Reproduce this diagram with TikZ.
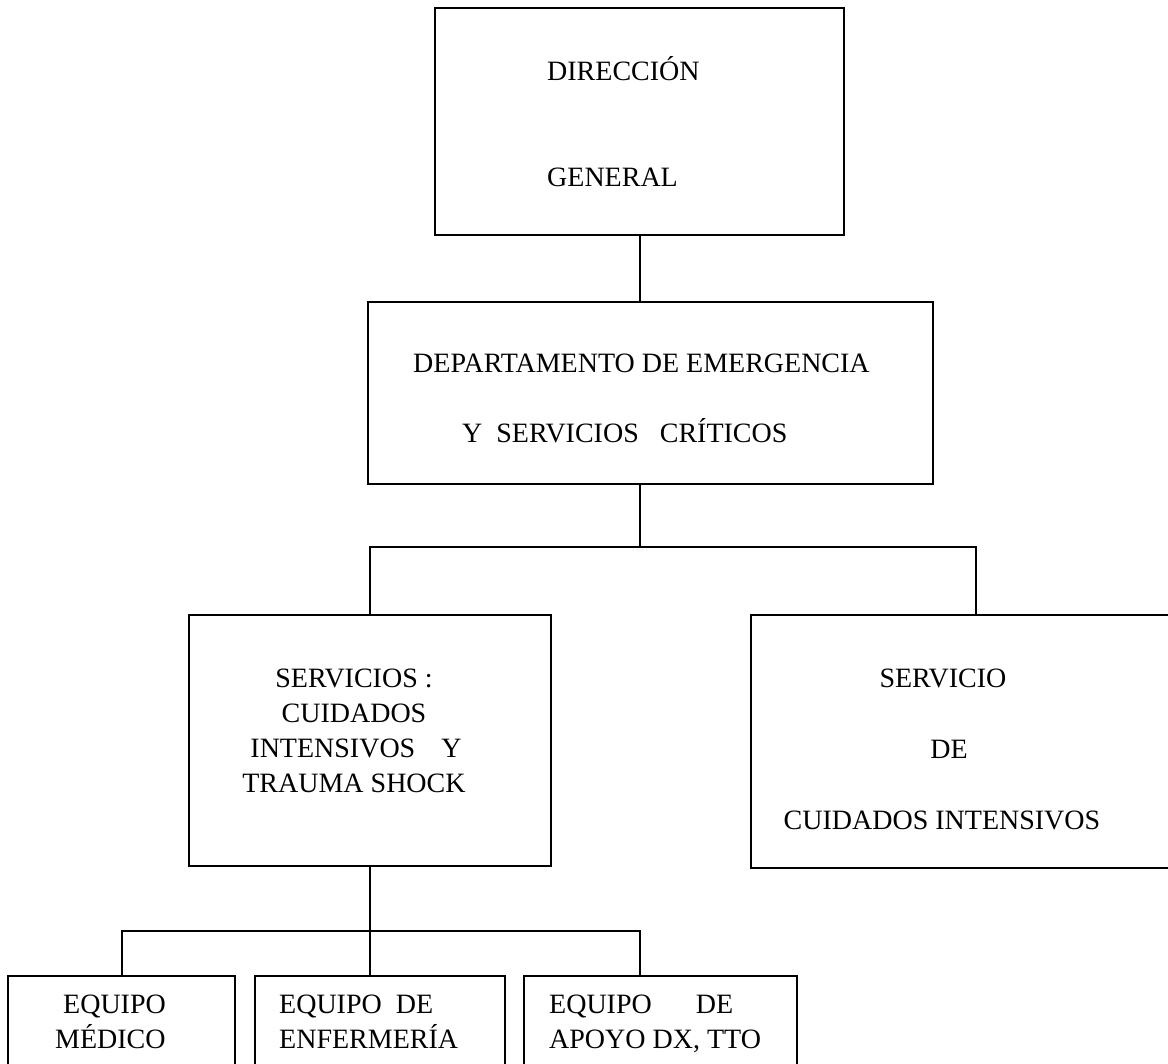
\documentclass[tikz,border=0pt]{standalone}
\usepackage{fontspec}
\setmainfont{Liberation Serif}

\tikzset{
  caja/.style={draw, rectangle, line width=2.4pt, inner sep=0pt, anchor=north west},
  rotulo/.style={inner sep=0pt, font=\fontsize{28}{34}\selectfont},
  enlace/.style={line width=2pt}
}

\begin{document}
\begin{tikzpicture}[x=1pt,y=-1pt]

	\useasboundingbox (0,0) rectangle (1168,1064);
	\clip (0,0) rectangle (1168,1064);

	% cajas
	\node[caja, minimum width=409pt, minimum height=227pt] (dir) at (434,7) {};
	\node[caja, minimum width=565pt, minimum height=182pt] (dep) at (367,301) {};
	\node[caja, minimum width=362pt, minimum height=251pt] (serv) at (188,614) {};
	\node[caja, minimum width=450pt, minimum height=253pt] (uci) at (750,614) {};
	\node[caja, minimum width=227pt, minimum height=150pt] (med) at (7,975) {};
	\node[caja, minimum width=250pt, minimum height=150pt] (enf) at (254,975) {};
	\node[caja, minimum width=273pt, minimum height=150pt] (apo) at (523,975) {};

	% textos
	\node[rotulo, anchor=base west] (tdir1) at (547,81) {DIRECCIÓN};
	\node[rotulo, anchor=base west] (tdir2) at (547,187) {GENERAL};

	\node[rotulo, anchor=base west] (tdep1) at (413,373) {DEPARTAMENTO DE EMERGENCIA};
	\node[rotulo, anchor=base west] (tdep2) at (462,443) {Y~~SERVICIOS~~~CRÍTICOS};

	\node[rotulo, anchor=base] (tserv1) at (354,687) {SERVICIOS :};
	\node[rotulo, anchor=base] (tserv2) at (354,722) {CUIDADOS};
	\node[rotulo, anchor=base] (tserv3) at (356,757) {INTENSIVOS\hspace{26pt}Y};
	\node[rotulo, anchor=base] (tserv4) at (354,792) {TRAUMA SHOCK};

	\node[rotulo, anchor=base] (tuci1) at (943,687) {SERVICIO};
	\node[rotulo, anchor=base] (tuci2) at (949,758) {DE};
	\node[rotulo, anchor=base] (tuci3) at (942,829) {CUIDADOS INTENSIVOS};

	\node[rotulo, anchor=base west] (tmed1) at (63,1013) {EQUIPO};
	\node[rotulo, anchor=base west] (tmed2) at (55,1048) {MÉDICO};

	\node[rotulo, anchor=base west] (tenf1) at (279,1013) {EQUIPO~~DE};
	\node[rotulo, anchor=base west] (tenf2) at (279,1048) {ENFERMERÍA};

	\node[rotulo, anchor=base west] (tapo1) at (549,1013) {EQUIPO\hspace{44pt}DE};
	\node[rotulo, anchor=base west] (tapo2) at (549,1048) {APOYO DX, TTO};

	% conectores
	\coordinate (bus1) at (dir.south |- 0,547);
	\coordinate (bus2) at (serv.south |- 0,931);

	\draw[enlace] (dir.south) -- (dir.south |- dep.north);
	\draw[enlace] (dir.south |- dep.south) -- (bus1);
	\draw[enlace] (serv.north) |- (bus1) -| (uci.north);

	\draw[enlace] (serv.south) -- (bus2) -- (bus2 |- enf.north);
	\draw[enlace] (med.north) |- (bus2) -| (dir.south |- apo.north);

\end{tikzpicture}
\end{document}
